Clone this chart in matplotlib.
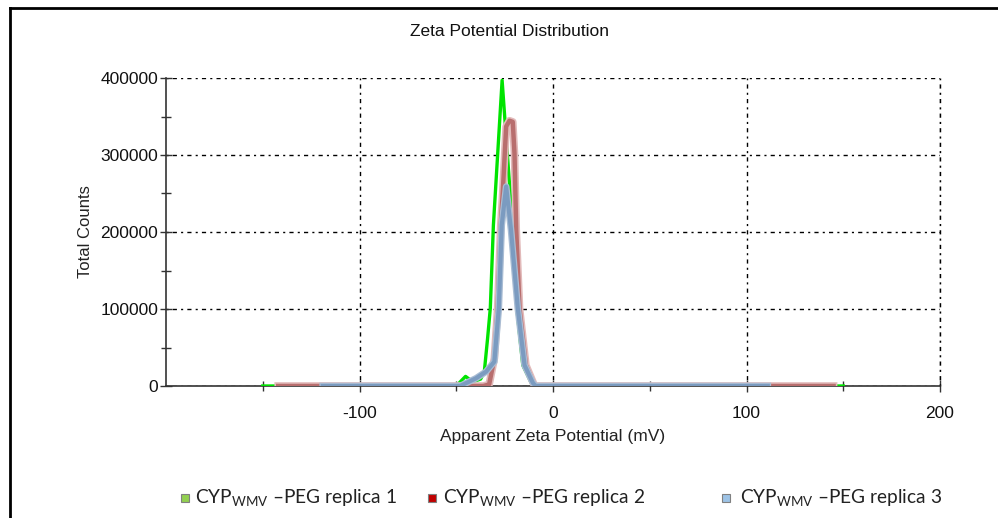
import matplotlib
matplotlib.use("Agg")
import matplotlib.pyplot as plt
from matplotlib import font_manager as fm
from matplotlib.lines import Line2D
from matplotlib.patches import Rectangle

# ---------------- data ----------------
x_rep1 = [-150, -50, -45.2, -41.5, -37.4, -35.5, -33.8, -32.4, -30.8, -26.3, -20.8, -18.7, -15.6, -11.4, -9.9, 150]
y_rep1 = [0, 0, 12500, 5500, 9000, 18600, 62000, 101000, 209000, 397000, 203000, 101000, 27000, 5000, 0, 0]

x_rep2 = [-142, -36, -33, -30.3, -28.6, -27, -26, -24.2, -22.5, -20.8, -19.9, -19, -17.3, -14, -9.5, 145]
y_rep2 = [0, 0, 2000, 36000, 101000, 209000, 250000, 337000, 344500, 343000, 302000, 203000, 101000, 27000, 0, 0]

x_rep3 = [-119, -48, -39.8, -34.6, -30.3, -28, -26.5, -24.2, -21.7, -18.2, -14.7, -10.4, -9, 111]
y_rep3 = [0, 0, 10000, 18600, 31600, 101000, 209000, 259000, 203000, 101000, 27000, 4000, 0, 0]

series_labels = ["replica 1", "replica 2", "replica 3"]
title = "Zeta Potential Distribution"
xlabel = "Apparent Zeta Potential (mV)"
ylabel = "Total Counts"
xticks_major = [-100, 0, 100, 200]
xticks_minor = [-150, -50, 50, 150]
yticks_major = [0, 100000, 200000, 300000, 400000]
yticks_minor = [50000, 150000, 250000, 350000]

# ---------------- fonts ----------------
names = {f.name for f in fm.fontManager.ttflist}
axfont = "Liberation Sans Narrow" if "Liberation Sans Narrow" in names else "Liberation Sans"
legfont = "Lato" if "Lato" in names else "DejaVu Sans"
plt.rcParams['font.family'] = ["Liberation Sans", "DejaVu Sans"]
plt.rcParams['mathtext.fontset'] = 'custom'
plt.rcParams['mathtext.rm'] = legfont
plt.rcParams['mathtext.it'] = legfont

W, H = 998, 518
fig = plt.figure(figsize=(W / 100, H / 100), dpi=100)

# outer frame (top and left borders)
fig.add_artist(Line2D([10 / W, 10 / W], [0, 1 - 8 / H], color="black", lw=2, transform=fig.transFigure))
fig.add_artist(Line2D([10 / W, 1], [1 - 8 / H, 1 - 8 / H], color="black", lw=2, transform=fig.transFigure))

L, R, T, B = 166, 940, 78, 386
ax = fig.add_axes([L / W, 1 - B / H, (R - L) / W, (B - T) / H])

ax.plot(x_rep1, y_rep1, color="#00e400", lw=2.4, zorder=3, solid_joinstyle="round")
ax.plot(x_rep2, y_rep2, color="#e2baba", lw=5.5, zorder=4, solid_joinstyle="round")
ax.plot(x_rep2, y_rep2, color="#b86e6e", lw=3.2, zorder=4, solid_joinstyle="round")
ax.plot(x_rep3, y_rep3, color="#a9bdd4", lw=4.8, zorder=5, solid_joinstyle="round")
ax.plot(x_rep3, y_rep3, color="#7b9bc0", lw=3, zorder=5, solid_joinstyle="round")

ax.set_xlim(-200, 200)
ax.set_ylim(0, 400000)
ax.set_xticks(xticks_major)
ax.set_xticks(xticks_minor, minor=True)
ax.set_yticks(yticks_major)
ax.set_yticks(yticks_minor, minor=True)
ax.set_yticklabels([str(v) for v in yticks_major])
ax.set_xticklabels([str(v) if v >= 0 else "-" + str(-v) for v in xticks_major])

for s in ["top", "right"]:
    ax.spines[s].set_visible(False)
for s in ["left", "bottom"]:
    ax.spines[s].set_linewidth(1.2)
    ax.spines[s].set_color("#333333")

ax.tick_params(which="major", direction="inout", length=9, width=1, color="#333333",
               labelsize=12.5, labelcolor="#111111", pad=1)
ax.tick_params(which="minor", direction="inout", length=7, width=1, color="#333333")
ax.tick_params(axis="x", which="major", pad=10)

ax.grid(True, which="major", color="black", linestyle=(0, (1.5, 3, 3, 3)), lw=1)
ax.set_axisbelow(True)
ax.plot([200, 200], [0, 400000], color="black", linestyle=(0, (1.5, 3, 3, 3)), lw=1,
        clip_on=False, zorder=1)

fig.text(510 / W, 1 - 32 / H, title, ha="center", va="center", fontsize=12.5,
         family=[axfont, "DejaVu Sans"], color="#111111")
fig.text(85 / W, 1 - 232 / H, ylabel, ha="center", va="center", rotation=90,
         fontsize=12, family=[axfont, "DejaVu Sans"], color="#222222")
fig.text(553 / W, 1 - 437 / H, xlabel, ha="center", va="center", fontsize=12.5,
         family=[axfont, "DejaVu Sans"], color="#222222")

# legend
leg_colors = ["#92d050", "#c00000", "#9dc3e6"]
leg_marker_x = [185, 432, 726]
leg_text_x = [195, 443, 740]
ly = 498
for c, mx, tx, lab in zip(leg_colors, leg_marker_x, leg_text_x, series_labels):
    fig.add_artist(Rectangle(((mx - 4) / W, 1 - (ly + 4) / H), 8 / W, 8 / H,
                             facecolor=c, edgecolor="#808080", lw=0.8,
                             transform=fig.transFigure))
    fig.text(tx / W, 1 - ly / H, r"CYP$_{\mathrm{WMV}}$ " + "\u2013PEG " + lab,
             ha="left", va="center", fontsize=13.8, family=[legfont, "DejaVu Sans"],
             color="#222222")

fig.savefig("out.png", dpi=100)
